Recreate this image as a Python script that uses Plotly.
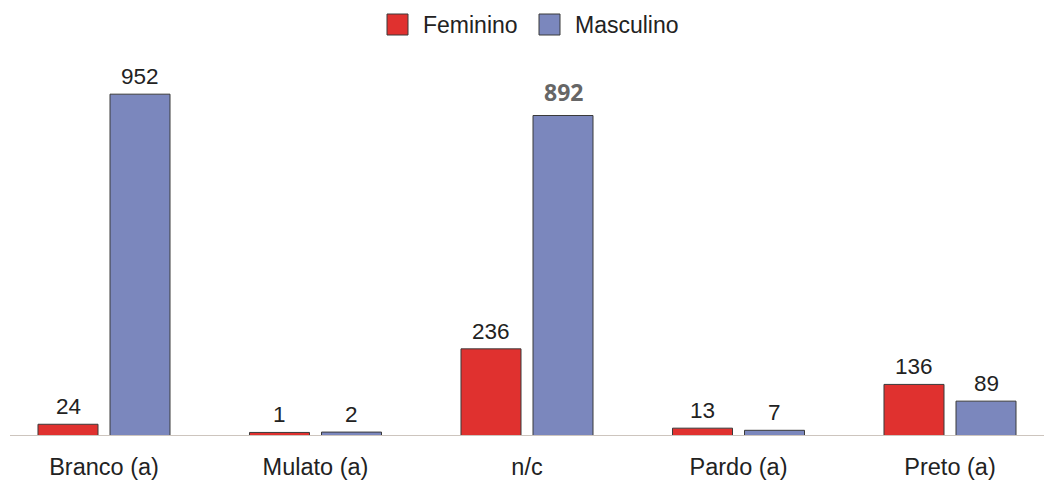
import plotly.graph_objects as go

# Counts by race/colour category and sex
categories = ["Branco (a)", "Mulato (a)", "n/c", "Pardo (a)", "Preto (a)"]
feminino = [24, 1, 236, 13, 136]
masculino = [952, 2, 892, 7, 89]
series_names = ["Feminino", "Masculino"]

RED = "#e0312f"
BLUE = "#7b87bd"
EDGE = "#3a3a3a"
FONT = "Liberation Sans, Arial, sans-serif"

W, H = 1044, 480
M_T, M_B = 50, 44
PLOT_H = H - M_T - M_B
SLOT = 211.5            # pixels per category
PX_PER_UNIT = 0.3557    # vertical pixels per count
BAR_FLOOR = -9          # bars start slightly below zero so tiny counts stay visible
X0 = -104 / SLOT
X1 = X0 + W / SLOT
YMAX = BAR_FLOOR + PLOT_H / PX_PER_UNIT

fig = go.Figure()
for name, vals, col in [(series_names[0], feminino, RED), (series_names[1], masculino, BLUE)]:
    fig.add_trace(go.Bar(
        x=categories, y=[v - BAR_FLOOR for v in vals], base=BAR_FLOOR,
        name=name, showlegend=False,
        customdata=vals, hovertemplate="%{x}: %{customdata}<extra>" + name + "</extra>",
        marker=dict(color=col, line=dict(color=EDGE, width=1)),
    ))

# value labels above each bar
for vals, shift in [(feminino, -36), (masculino, 36)]:
    for cat, v in zip(categories, vals):
        special = (v == 892)
        fig.add_annotation(
            x=cat, y=v, xref="x", yref="y", text=str(v), showarrow=False,
            xshift=shift, yshift=3 if not special else 6, yanchor="bottom",
            font=dict(family="Noto Sans, sans-serif" if special else FONT,
                      size=23 if special else 22.5,
                      color="#666666" if special else "#222222",
                      weight="bold" if special else "normal"),
        )

# baseline
fig.add_shape(type="line", xref="paper", yref="y", x0=10 / W, x1=1,
              y0=BAR_FLOOR, y1=BAR_FLOOR,
              line=dict(color="#cdc5be", width=2), layer="above")

# legend drawn as swatches + labels
def py_to_paper(py):
    return (H - M_B - py) / PLOT_H

legend_items = [(series_names[0], RED, 387, 422), (series_names[1], BLUE, 539, 574)]
for name, col, sx, tx in legend_items:
    fig.add_shape(type="rect", xref="paper", yref="paper",
                  x0=sx / W, x1=(sx + 21) / W, y0=py_to_paper(35), y1=py_to_paper(14),
                  fillcolor=col, line=dict(color=EDGE, width=1))
    fig.add_annotation(xref="paper", yref="paper", x=tx / W, y=py_to_paper(25),
                       text=name, showarrow=False, xanchor="left", yanchor="middle",
                       xshift=-1, font=dict(family=FONT, size=23, color="#222222"))

fig.update_layout(
    width=W, height=H,
    margin=dict(l=0, r=0, t=M_T, b=M_B),
    paper_bgcolor="white", plot_bgcolor="white",
    barmode="group", bargap=0.319, bargroupgap=0.1667,
    xaxis=dict(range=[X0, X1], showline=False, showgrid=False, zeroline=False,
               ticks="", ticklabelstandoff=14, automargin=False,
               tickfont=dict(family=FONT, size=23.5, color="#222222")),
    yaxis=dict(range=[BAR_FLOOR, YMAX], visible=False, automargin=False),
)

fig.write_html("out.html")
